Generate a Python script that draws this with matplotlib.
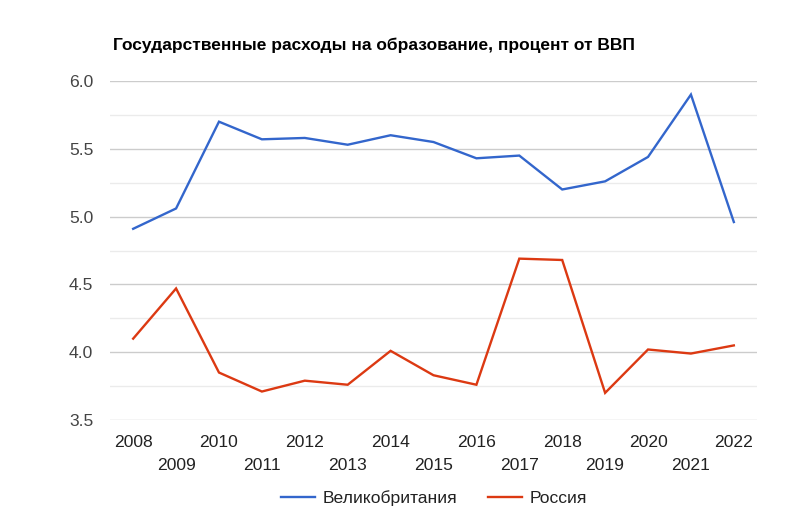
import matplotlib
matplotlib.use('Agg')
import matplotlib.pyplot as plt
from matplotlib.lines import Line2D

plt.rcParams['font.family'] = ['Liberation Sans', 'DejaVu Sans']

years = list(range(2008, 2023))
uk = [4.91, 5.06, 5.70, 5.57, 5.58, 5.53, 5.60, 5.55, 5.43, 5.45, 5.20, 5.26, 5.44, 5.90, 4.96]
russia = [4.10, 4.47, 3.85, 3.71, 3.79, 3.76, 4.01, 3.83, 3.76, 4.69, 4.68, 3.70, 4.02, 3.99, 4.05]
series_names = ['Великобритания', 'Россия']
title = 'Государственные расходы на образование, процент от ВВП'

blue = '#3366cc'
red = '#dc3912'

fig = plt.figure(figsize=(8.03, 5.26), dpi=100)
W, H = 803, 526
ax = fig.add_axes([110 / W, 1 - 420 / H, (757 - 110) / W, (420 - 81) / H])

ax.plot(years, uk, color=blue, lw=1.7, solid_joinstyle='miter', zorder=3)
ax.plot(years, russia, color=red, lw=1.7, solid_joinstyle='miter', zorder=3)

ax.set_xlim(2007.46, 2022.54)
ax.set_ylim(3.5, 6.0)

# y grid: major every 0.5, minor in between
yt = [3.5, 4.0, 4.5, 5.0, 5.5, 6.0]
ax.set_yticks(yt)
ax.set_yticklabels([f'{v:.1f}' for v in yt])
ax.set_yticks([3.75, 4.25, 4.75, 5.25, 5.75], minor=True)
ax.grid(axis='y', which='major', color='#cccccc', lw=1.0, zorder=0)
ax.grid(axis='y', which='minor', color='#ebebeb', lw=1.0, zorder=0)
ax.tick_params(axis='y', which='both', length=0, pad=12, labelsize=12.6, labelcolor='#444444')

# staggered x labels: even years on top row, odd years below
even = [y for y in years if y % 2 == 0]
odd = [y for y in years if y % 2 == 1]
ax.set_xticks(even)
ax.set_xticklabels([str(y) for y in even])
ax.set_xticks(odd, minor=True)
ax.set_xticklabels([str(y) for y in odd], minor=True)
ax.tick_params(axis='x', which='major', length=0, pad=11, labelsize=12.6, labelcolor='#222222')
ax.tick_params(axis='x', which='minor', length=0, pad=27, labelsize=12.6, labelcolor='#222222')

for s in ax.spines.values():
    s.set_visible(False)

fig.text(113 / W, 1 - 45 / H, title, fontsize=12.5, fontweight='bold',
         color='#000000', va='center', ha='left')

handles = [Line2D([], [], color=blue, lw=1.7), Line2D([], [], color=red, lw=1.7)]
fig.legend(handles, series_names, loc='center', bbox_to_anchor=(434 / W, 1 - 498 / H),
           ncol=2, frameon=False, fontsize=12.6, handlelength=1.95,
           handletextpad=0.42, columnspacing=1.75, labelcolor='#222222')

fig.savefig('out.png', dpi=100)
